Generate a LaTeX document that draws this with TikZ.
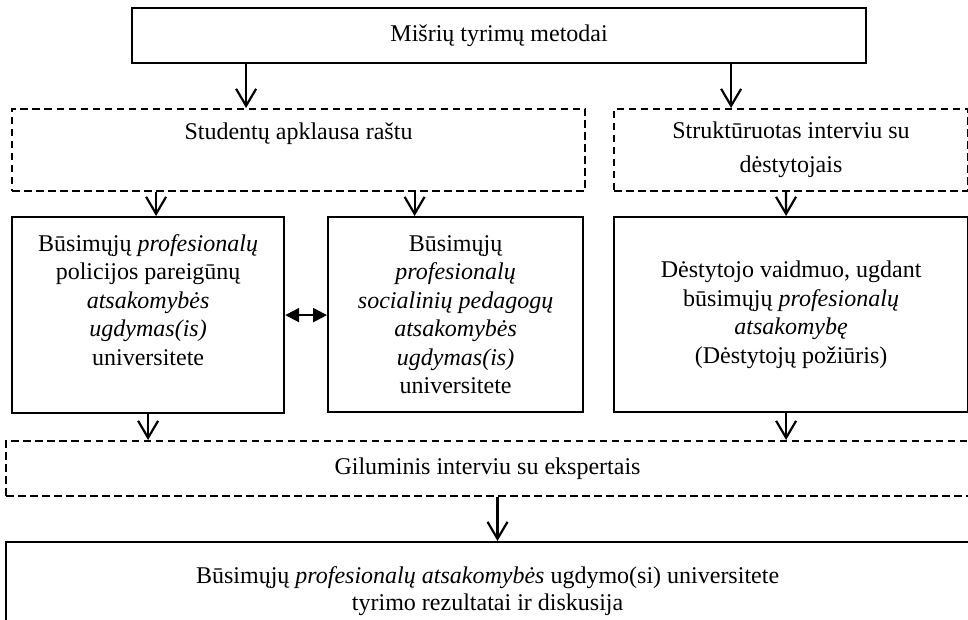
\documentclass[tikz,border=0pt]{standalone}
\usepackage{fontspec}
\setmainfont{Liberation Serif}
\usetikzlibrary{arrows.meta, positioning, calc}

\begin{document}
\begin{tikzpicture}[
	  x=1pt, y=-1pt,
	  font=\fontsize{24}{28.5}\selectfont,
	  box_style/.style={
	  	rectangle,
	  	draw,
	  	line width=2.2pt,
	  	align=center,
	  	anchor=north west,
	  	inner sep=0pt
	  },
	  dash_style/.style={
	  	rectangle,
	  	draw,
	  	line width=2pt,
	  	dash pattern=on 7.5pt off 4.5pt,
	  	align=center,
	  	anchor=north west,
	  	inner sep=0pt
	  },
	  text_style/.style={align=center, inner sep=0pt},
	  arrow_style/.style={line width=2.2pt, -{Straight Barb[length=17pt,width=20pt]}},
	  both_style/.style={line width=2.2pt, {Triangle[length=14pt,width=14pt]}-{Triangle[length=14pt,width=14pt]}}]
	\useasboundingbox (0,0) rectangle (968,620);
	% Root
	\node[box_style, minimum width=734pt, minimum height=55pt] (metodai) at (131,7) {Mišrių tyrimų metodai};
	% Methods
	\node[dash_style, minimum width=573pt, minimum height=82pt] (studentai) at (11,108) {};
	\node[text_style, anchor=base] (studentai_txt) at ([yshift=-32pt]studentai.north) {Studentų apklausa raštu};
	\node[dash_style, minimum width=354pt, minimum height=82pt] (interviu) at (613,108) {Struktūruotas interviu su\\[6pt] dėstytojais};
	% Groups
	\node[box_style, minimum width=272pt, minimum height=196pt] (policija) at (11,216) {};
	\node[text_style, anchor=north] (policija_txt) at ([yshift=-18pt]policija.north) {Būsimųjų \textit{profesionalų}\\ policijos pareigūnų\\ \textit{atsakomybės}\\ \textit{ugdymas(is)}\\ universitete};
	\node[box_style, minimum width=255pt, minimum height=195pt] (pedagogai) at (327,216) {Būsimųjų\\ \textit{profesionalų}\\ \textit{socialinių pedagogų}\\ \textit{atsakomybės}\\ \textit{ugdymas(is)}\\ universitete};
	\node[box_style, minimum width=354pt, minimum height=195pt] (destytojas) at (613,216) {Dėstytojo vaidmuo, ugdant\\ būsimųjų \textit{profesionalų}\\ \textit{atsakomybę}\\ (Dėstytojų požiūris)};
	% Experts and results
	\node[dash_style, minimum width=963pt, minimum height=55pt] (ekspertai) at (5,440) {Giluminis interviu su ekspertais};
	\node[box_style, minimum width=963pt, minimum height=98pt] (rezultatai) at (5,541) {Būsimųjų \textit{profesionalų atsakomybės} ugdymo(si) universitete\\[-1.5pt] tyrimo rezultatai ir diskusija};
	% Connectors
	\draw[arrow_style] ([xshift=-253pt]metodai.south) -- ([xshift=-253pt]metodai.south |- studentai.north);
	\draw[arrow_style] ([xshift=232pt]metodai.south) -- ([xshift=232pt]metodai.south |- interviu.north);
	\draw[arrow_style] ([xshift=8pt]policija.north |- studentai.south) -- ([xshift=8pt]policija.north);
	\draw[arrow_style] ([xshift=-41pt]pedagogai.north |- studentai.south) -- ([xshift=-41pt]pedagogai.north);
	\draw[arrow_style] ([xshift=-5pt]interviu.south) -- ([xshift=-5pt]destytojas.north);
	\draw[both_style] (policija.east) -- (pedagogai.west |- policija.east);
	\draw[arrow_style] (policija.south) -- (policija.south |- ekspertai.north);
	\draw[arrow_style] ([xshift=-5pt]destytojas.south) -- ([xshift=-5pt]destytojas.south |- ekspertai.north);
	\draw[arrow_style] ([xshift=10pt]ekspertai.south) -- ([xshift=10pt]ekspertai.south |- rezultatai.north);
\end{tikzpicture}
\end{document}
